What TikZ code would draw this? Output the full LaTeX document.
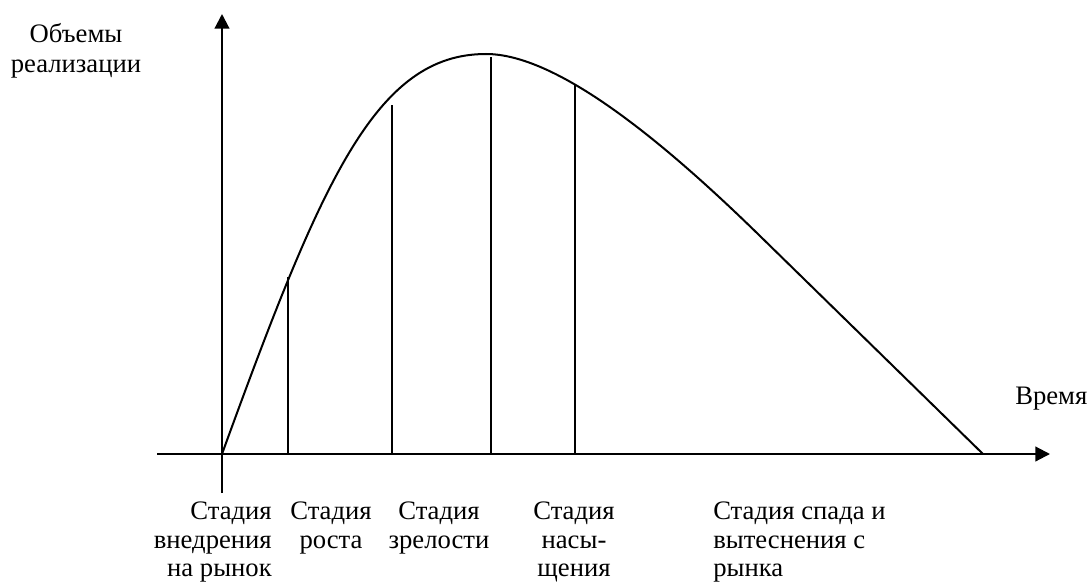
\documentclass[tikz,border=0pt]{standalone}
\usepackage{fontspec}
\setmainfont{Liberation Serif}
\usetikzlibrary{arrows.meta}
\begin{document}
\begin{tikzpicture}[x=0.75pt,y=-0.75pt,
  ln/.style={line width=1.5pt},
  axis/.style={line width=1.6pt,-{Triangle[length=11pt,width=11pt]}},
  lbl/.style={inner sep=0pt,font=\fontsize{20}{21.4}\selectfont},
  toplbl/.style={inner sep=0pt,font=\fontsize{20}{22.5}\selectfont}]
\useasboundingbox (0,0) rectangle (1088,585);
% axes
\coordinate (O) at (222,454);
\coordinate (ybot) at (222,493);
\coordinate (ytop) at (222,14);
\coordinate (xl) at (157,454);
\coordinate (xr) at (1050,454);
\coordinate (peak) at (486,54);
\coordinate (bend) at (760,236);
\coordinate (end) at (983,454);
\draw[axis] (ybot) -- (ytop);
\draw[axis] (xl) -- (xr);
% curve
\draw[ln] (O) .. controls (322,179) and (376,54) .. (peak)
  .. controls (556,54) and (660,138.2) .. (bend) -- (end);
% stage boundaries
\coordinate (b1) at (288,454); \coordinate (t1) at (288,277);
\coordinate (b2) at (392,454); \coordinate (t2) at (392,105);
\coordinate (b3) at (491,454); \coordinate (t3) at (491,57);
\coordinate (b4) at (575,454); \coordinate (t4) at (575,85);
\draw[ln] (b1) -- (t1);
\draw[ln] (b2) -- (t2);
\draw[ln] (b3) -- (t3);
\draw[ln] (b4) -- (t4);
% labels
\node[toplbl, anchor=north, align=center] (ylab) at (76,23) {Объемы\\реализации};
\node[lbl, anchor=north west] (xlab) at (1015,387) {Время};
\node[lbl, anchor=north east, align=right] (s1) at (272,502) {Стадия\\внедрения\\на рынок};
\node[lbl, anchor=north, align=center] (s2) at (331,502) {Стадия\\роста};
\node[lbl, anchor=north, align=center] (s3) at (439,502) {Стадия\\зрелости};
\node[lbl, anchor=north, align=center] (s4) at (574,502) {Стадия\\насы-\\щения};
\node[lbl, anchor=north west, align=left] (s5) at (713,502) {Стадия спада и\\вытеснения с\\рынка};
\end{tikzpicture}
\end{document}
